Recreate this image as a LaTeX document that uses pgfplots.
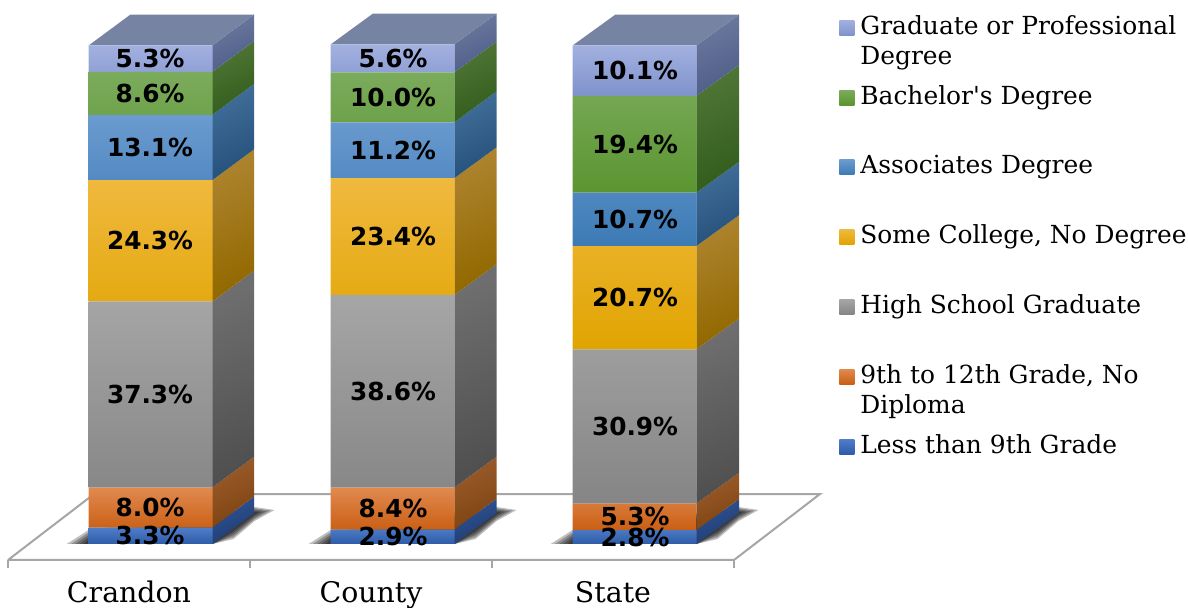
\documentclass[border=0pt]{standalone}
\usepackage{pgfplots}
\pgfplotsset{compat=1.18}
\usepackage{fontspec}
\setmainfont{DejaVu Serif}
\setsansfont{DejaVu Sans}
\definecolor{gA}{HTML}{A3B1E0}\definecolor{gB}{HTML}{7F92CC}
\definecolor{bA}{HTML}{7BAB5C}\definecolor{bB}{HTML}{5B9530}
\definecolor{aA}{HTML}{6B9BCF}\definecolor{aB}{HTML}{3C7AB5}
\definecolor{sA}{HTML}{F0B93F}\definecolor{sB}{HTML}{E0A400}
\definecolor{hA}{HTML}{A6A6A6}\definecolor{hB}{HTML}{858585}
\definecolor{nA}{HTML}{E08A4F}\definecolor{nB}{HTML}{CA5F14}
\definecolor{lA}{HTML}{4F7DC7}\definecolor{lB}{HTML}{2F5CA8}
\pgfplotsset{base/.style={scale only axis,width=363pt,height=280pt,xmin=-0.5,xmax=2.5,ymin=-3.206,ymax=109.02,clip=false}}
\newcommand\side[6]{%
  \pgfmathsetmacro\ya{#3+6.2}\pgfmathsetmacro\yb{#4+6.2}%
  \addplot[draw=none,forget plot,top color=#5,bottom color=#6,shading angle=25] coordinates {(#1,#3) (#2,\ya) (#2,\yb) (#1,#4) (#1,#3)};}
\definecolor{s1a}{HTML}{305596}\definecolor{s1b}{HTML}{1F3A70}
\definecolor{s2a}{HTML}{9C5C2C}\definecolor{s2b}{HTML}{7D4310}
\definecolor{s3a}{HTML}{6E6E6E}\definecolor{s3b}{HTML}{505050}
\definecolor{s4a}{HTML}{AD842E}\definecolor{s4b}{HTML}{926800}
\definecolor{s5a}{HTML}{426F9A}\definecolor{s5b}{HTML}{24507A}
\definecolor{s6a}{HTML}{507636}\definecolor{s6b}{HTML}{325D1C}
\definecolor{s7a}{HTML}{6C7A9F}\definecolor{s7b}{HTML}{4E5D88}
\definecolor{topc}{HTML}{7683A2}
\newcommand\shadowlayer[2]{% bar-left x, factor
  \pgfmathsetmacro\pa{#1-(22*#2)/242}\pgfmathsetmacro\pb{#1+124/242}%
  \pgfmathsetmacro\pe{#1+145/242}%
  \pgfmathsetmacro\pc{#1+166/242}\pgfmathsetmacro\pd{#1+(166+20*#2)/242}%
  \pgfmathsetmacro\qa{(2+12*#2)/4.99}%
  \pgfmathsetmacro\qb{(31+6*#2)/4.99}\pgfmathsetmacro\qc{(31+3*#2)/4.99}%
  \pgfmathsetmacro\qd{(31-8*#2)/4.99}\pgfmathsetmacro\qe{(15-10*#2)/4.99}%
  \addplot[draw=none,forget plot,fill=black,fill opacity=0.25] coordinates {(\pa,0) (#1,\qa) (\pc,\qb) (\pd,\qc) (\pc,\qd) (\pe,\qe) (\pb,0) (\pa,0)};}
\newcommand\shadow[1]{\shadowlayer{#1}{1}\shadowlayer{#1}{0.8}\shadowlayer{#1}{0.6}\shadowlayer{#1}{0.4}\shadowlayer{#1}{0.2}}
\newcommand\entry[1]{\parbox[t]{170pt}{\fontsize{12.45}{15}\selectfont #1}}
\pgfplotsset{swatch/.style={legend image code/.code={\path[##1] (0pt,-4.25pt) rectangle (7.5pt,3.25pt);}}}
\begin{document}
\begin{tikzpicture}
\useasboundingbox (-4pt,-24pt) rectangle (590pt,280pt);
% floor, shadows, side and top faces
\begin{axis}[base,hide axis]
\addplot[draw={rgb,255:red,166;green,166;blue,166},line width=1pt,fill=white,forget plot] coordinates {(-0.5,-3.206) (2.5,-3.206) (2.855,10.0) (-0.145,10.0) (-0.5,-3.206)};
\shadow{-0.167}\shadow{0.833}\shadow{1.833}
% Crandon
\side{0.344}{0.517}{0}{3.3}{s1a}{s1b}
\side{0.344}{0.517}{3.3}{11.3}{s2a}{s2b}
\side{0.344}{0.517}{11.3}{48.6}{s3a}{s3b}
\side{0.344}{0.517}{48.6}{72.9}{s4a}{s4b}
\side{0.344}{0.517}{72.9}{86.0}{s5a}{s5b}
\side{0.344}{0.517}{86.0}{94.6}{s6a}{s6b}
\side{0.344}{0.517}{94.6}{99.9}{s7a}{s7b}
% County
\side{1.344}{1.519}{0}{2.9}{s1a}{s1b}
\side{1.344}{1.519}{2.9}{11.3}{s2a}{s2b}
\side{1.344}{1.519}{11.3}{49.9}{s3a}{s3b}
\side{1.344}{1.519}{49.9}{73.3}{s4a}{s4b}
\side{1.344}{1.519}{73.3}{84.5}{s5a}{s5b}
\side{1.344}{1.519}{84.5}{94.5}{s6a}{s6b}
\side{1.344}{1.519}{94.5}{100.1}{s7a}{s7b}
% State
\side{2.344}{2.521}{0}{2.8}{s1a}{s1b}
\side{2.344}{2.521}{2.8}{8.1}{s2a}{s2b}
\side{2.344}{2.521}{8.1}{39.0}{s3a}{s3b}
\side{2.344}{2.521}{39.0}{59.7}{s4a}{s4b}
\side{2.344}{2.521}{59.7}{70.4}{s5a}{s5b}
\side{2.344}{2.521}{70.4}{89.8}{s6a}{s6b}
\side{2.344}{2.521}{89.8}{99.9}{s7a}{s7b}
% tops
\addplot[draw=none,fill=topc,forget plot] coordinates {(-0.167,99.9) (0.344,99.9) (0.517,106.1) (0.006,106.1) (-0.167,99.9)};
\addplot[draw=none,fill=topc,forget plot] coordinates {(0.833,100.1) (1.344,100.1) (1.519,106.3) (1.008,106.3) (0.833,100.1)};
\addplot[draw=none,fill=topc,forget plot] coordinates {(1.833,99.9) (2.344,99.9) (2.521,106.1) (2.010,106.1) (1.833,99.9)};
\end{axis}
% front faces, x axis, legend
\begin{axis}[base,ybar stacked,bar width=62pt,bar shift=10.8pt,
  axis y line=none,axis x line=bottom,
  axis line style={-,draw={rgb,255:red,166;green,166;blue,166},line width=1pt},
  xtick={0,1,2},xticklabels={Crandon,County,State},
  minor xtick={-0.5,0.5,1.5,2.5},
  major tick length=0pt,minor tick length=4pt,tick align=outside,
  tick style={draw={rgb,255:red,166;green,166;blue,166},line width=0.75pt},
  xticklabel style={font=\fontsize{14.2}{16}\selectfont,yshift=-21.5pt,anchor=base},
  reverse legend,legend cell align=left,
  legend style={at={(1.1446,0.9726)},anchor=north west,draw=none,fill=none,inner sep=0pt,
    nodes={inner sep=0pt},row sep=24pt,column sep=3pt}]
\addplot[swatch,draw=none,top color=lA,bottom color=lB] coordinates {(0,3.3) (1,2.9) (2,2.8)};
\addlegendentry{\entry{Less than 9th Grade}}
\addplot[swatch,draw=none,top color=nA,bottom color=nB] coordinates {(0,8.0) (1,8.4) (2,5.3)};
\addlegendentry{\entry{9th to 12th Grade, No\\Diploma}}
\addplot[swatch,draw=none,top color=hA,bottom color=hB] coordinates {(0,37.3) (1,38.6) (2,30.9)};
\addlegendentry{\entry{High School Graduate}}
\addplot[swatch,draw=none,top color=sA,bottom color=sB] coordinates {(0,24.3) (1,23.4) (2,20.7)};
\addlegendentry{\entry{Some College, No Degree}}
\addplot[swatch,draw=none,top color=aA,bottom color=aB] coordinates {(0,13.1) (1,11.2) (2,10.7)};
\addlegendentry{\entry{Associates Degree}}
\addplot[swatch,draw=none,top color=bA,bottom color=bB] coordinates {(0,8.6) (1,10.0) (2,19.4)};
\addlegendentry{\entry{Bachelor\textquotesingle s Degree}}
\addplot[swatch,draw=none,top color=gA,bottom color=gB] coordinates {(0,5.3) (1,5.6) (2,10.1)};
\addlegendentry{\entry{Graduate or Professional\\Degree}}
\end{axis}
% value labels at segment centres
\begin{axis}[base,hide axis]
\addplot[draw=none,forget plot,point meta=explicit,
  nodes near coords={\pgfmathprintnumber[fixed,fixed zerofill,precision=1,assume math mode=true]{\pgfplotspointmeta}\%},
  nodes near coords style={anchor=center,inner sep=0pt,font=\sffamily\bfseries\fontsize{12.4}{14}\selectfont,text=black}]
table[x=x,y=y,meta=v] {
x y v
0.087 1.65 3.3
0.087 7.3 8.0
0.087 29.95 37.3
0.087 60.75 24.3
0.087 79.45 13.1
0.087 90.3 8.6
0.087 97.25 5.3
1.091 1.45 2.9
1.091 7.1 8.4
1.091 30.6 38.6
1.091 61.6 23.4
1.091 78.9 11.2
1.091 89.5 10.0
1.091 97.3 5.6
2.091 1.4 2.8
2.091 5.45 5.3
2.091 23.55 30.9
2.091 49.35 20.7
2.091 65.05 10.7
2.091 80.1 19.4
2.091 94.85 10.1
};
\end{axis}
\end{tikzpicture}
\end{document}
